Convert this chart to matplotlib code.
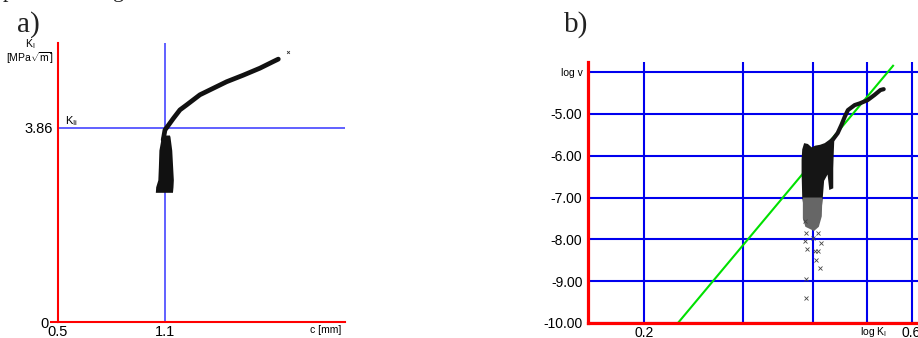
import matplotlib.pyplot as plt
from matplotlib.ticker import NullLocator

plt.rcParams['font.family'] = ['Liberation Sans', 'DejaVu Sans']
plt.rcParams['mathtext.fontset'] = 'custom'
plt.rcParams['mathtext.rm'] = 'Liberation Sans'
plt.rcParams['mathtext.it'] = 'Liberation Sans:italic'

# ---- panel a: K_I against crack length c ----
crack_c = [1.090, 1.100, 1.147, 1.184, 1.222, 1.296, 1.371, 1.446, 1.539, 1.633, 1.707, 1.736]
crack_k = [3.62, 3.82, 4.05, 4.22, 4.32, 4.52, 4.65, 4.78, 4.91, 5.05, 5.18, 5.23]
blob_k = [3.72, 3.69, 3.42, 3.09, 2.83, 2.69, 2.58]
blob_c_left = [1.085, 1.080, 1.066, 1.063, 1.060, 1.048, 1.046]
blob_c_right = [1.125, 1.128, 1.138, 1.143, 1.147, 1.145, 1.142]
stray_c = [1.792]
stray_k = [5.38]
k_ic = 3.86
c_0 = 1.1

# ---- panel b: log v against log K_I ----
tail_k = [0.434, 0.443, 0.450, 0.456, 0.462, 0.475, 0.485, 0.501, 0.515, 0.528, 0.535]
tail_v = [-5.62, -5.46, -5.26, -5.07, -4.91, -4.79, -4.75, -4.67, -4.55, -4.43, -4.41]
dense_k = [0.383, 0.386, 0.392, 0.398, 0.404, 0.412, 0.420, 0.428, 0.434, 0.437,
           0.436, 0.435, 0.435, 0.428, 0.425, 0.419, 0.417, 0.415,
           0.410, 0.403, 0.398, 0.392, 0.386, 0.383, 0.382, 0.382]
dense_v = [-5.85, -5.70, -5.72, -5.80, -5.76, -5.74, -5.70, -5.62, -5.55, -5.58,
           -5.90, -6.30, -6.78, -6.82, -6.45, -6.60, -6.95, -7.25,
           -7.35, -7.20, -7.30, -7.35, -7.30, -7.00, -6.40, -6.10]
sparse_band_k = [0.384, 0.416, 0.415, 0.410, 0.402, 0.395, 0.388, 0.384]
sparse_band_v = [-7.00, -7.00, -7.45, -7.70, -7.80, -7.75, -7.70, -7.50]
scatter_k = [0.387, 0.389, 0.388, 0.390, 0.403, 0.408, 0.405, 0.412, 0.389, 0.389, 0.408, 0.414, 0.400]
scatter_v = [-7.57, -7.85, -8.05, -8.22, -8.29, -8.29, -8.49, -8.68, -8.96, -9.40, -7.85, -8.09, -7.97]
fit_k = [0.230, 0.556]
fit_v = [-10.0, -3.85]
grid_k = [0.2, 0.3, 0.4, 0.5, 0.6]
grid_k_labels = ['0.2', '', '', '', '0.6']
grid_v = [-10, -9, -8, -7, -6, -5, -4]
grid_v_labels = ['-10.00', '-9.00', '-8.00', '-7.00', '-6.00', '-5.00', 'log v']

fig = plt.figure(figsize=(9.18, 3.38), dpi=100)

# cut-off line of text above the figure
fig.text(0.003, 1.008, 'p', family='Liberation Serif', fontsize=16, va='baseline', color='#222222')
fig.text(0.123, 1.008, 'g', family='Liberation Serif', fontsize=16, va='baseline', color='#222222')
fig.text(0.018, 0.905, 'a)', family='Liberation Serif', fontsize=21, va='baseline', color='#222222')
fig.text(0.614, 0.905, 'b)', family='Liberation Serif', fontsize=21, va='baseline', color='#222222')

# panel a
ax1 = fig.add_axes([0.0632, 0.0473, 0.3126, 0.8254])
ax1.set_xlim(0.5, 2.11)
ax1.set_ylim(0, 5.55)
for s in ['top', 'right']:
    ax1.spines[s].set_visible(False)
for s in ['left', 'bottom']:
    ax1.spines[s].set_color('red')
    ax1.spines[s].set_linewidth(1.5)
ax1.axvline(c_0, color='#6060ff', lw=1.4, zorder=1)
ax1.axhline(k_ic, color='#6060ff', lw=1.4, zorder=1)
ax1.fill_betweenx(blob_k, blob_c_left, blob_c_right, color='#111111', lw=0, zorder=3)
ax1.plot(crack_c, crack_k, color='#111111', lw=3.4, solid_capstyle='round', zorder=3)
ax1.plot(stray_c, stray_k, 'x', color='#333333', ms=2, mew=0.6)
ax1.set_xticks([0.5, 1.1], ['0.5', '1.1'])
ax1.set_yticks([0], ['0'])
ax1.set_yticks([k_ic], ['3.86'], minor=True)
ax1.tick_params(axis='x', colors='red', length=0, pad=2, labelsize=10.5, labelcolor='black')
ax1.tick_params(axis='y', which='major', colors='red', length=6, width=1.5, pad=1,
                labelsize=10.5, labelcolor='black')
ax1.tick_params(axis='y', which='minor', length=0, pad=4, labelsize=10.5, labelcolor='black')
ax1.text(2.0, -0.16, 'c [mm]', fontsize=7.5, ha='center', va='center', clip_on=False)
ax1.text(0.343, 5.53, 'K$_\\mathrm{I}$', fontsize=7.5, ha='center', va='center', clip_on=False)
ax1.text(0.343, 5.25, '[MPa$\\sqrt{\\mathrm{m}}$]', fontsize=7.5, ha='center', va='center', clip_on=False)
ax1.text(0.573, 4.0, 'K$_\\mathrm{Ii}$', fontsize=8, ha='center', va='center')

# panel b
ax2 = fig.add_axes([0.6405, 0.0444, 0.3655, 0.7722])
ax2.set_xscale('log')
ax2.set_xlim(0.159, 0.63)
ax2.set_ylim(-10, -3.76)
for s in ['top', 'right']:
    ax2.spines[s].set_visible(False)
for s in ['left', 'bottom']:
    ax2.spines[s].set_color('red')
    ax2.spines[s].set_linewidth(2.3)
    ax2.spines[s].set_zorder(5)
ax2.set_xticks(grid_k, grid_k_labels)
ax2.xaxis.set_minor_locator(NullLocator())
ax2.set_yticks(grid_v, grid_v_labels)
ax2.set_axisbelow(True)
ax2.grid(True, color='#0000ee', lw=1.5)
ax2.tick_params(length=0, labelsize=10)
ax2.tick_params(axis='x', pad=2)
ax2.tick_params(axis='y', pad=4)
ax2.get_yticklabels()[-1].set_fontsize(7.5)
ax2.plot(fit_k, fit_v, color='#00e000', lw=1.5, zorder=2)
ax2.fill(dense_k, dense_v, color='#151515', lw=0, zorder=3)
ax2.fill(sparse_band_k, sparse_band_v, color='#666666', lw=0, zorder=3)
ax2.plot(tail_k, tail_v, color='#151515', lw=3, solid_capstyle='round', zorder=3)
ax2.plot(scatter_k, scatter_v, 'x', color='#444444', ms=2.5, mew=0.6, ls='none', zorder=3)
ax2.text(0.514, -10.22, 'log K$_\\mathrm{I}$', fontsize=7.5, ha='center', va='center', clip_on=False)

fig.savefig('out.png', dpi=100)
